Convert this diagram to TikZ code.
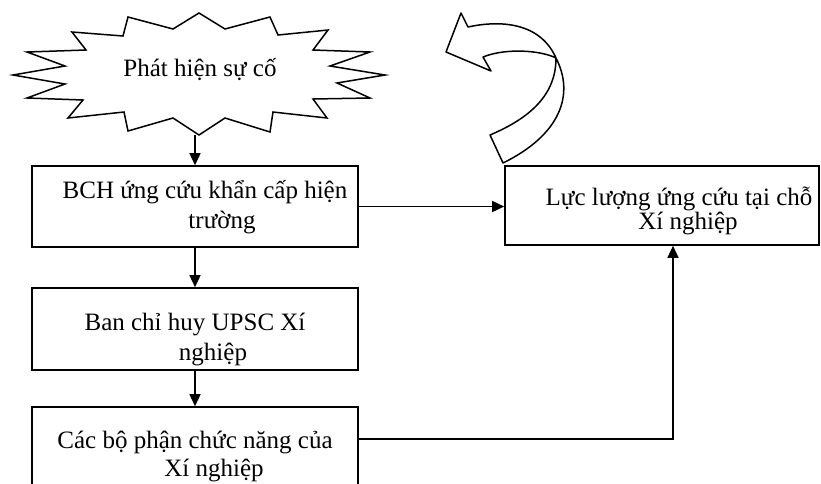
\documentclass[tikz,border=0pt]{standalone}
\usepackage{fontspec}
\setmainfont{Liberation Serif}
\usetikzlibrary{arrows.meta}
\begin{document}
\begin{tikzpicture}[x=1pt,y=-1pt,
  box/.style={draw,line width=1.6pt,inner sep=0pt},
  txt/.style={inner sep=0pt,align=center,font=\fontsize{25}{30}\selectfont},
  arr/.style={line width=1.5pt,-{Triangle[length=12pt,width=11pt]}},
  outline/.style={line width=1.5pt,line join=round}
  ]
\useasboundingbox (0,0) rectangle (821,483);
\clip (0,0) rectangle (821,483);

% starburst
\draw[outline,line join=miter] (199,13) -- (225,29) -- (270,17) -- (278,35) -- (328,30) -- (313,50) -- (370,52) -- (330,66) -- (385,75) -- (337,83) -- (370,98) -- (313,99) -- (327,118) -- (273,112) -- (270,132) -- (225,118) -- (199,135) -- (173,118) -- (128,131) -- (124,112) -- (68,118) -- (83,100) -- (27,98) -- (65,84) -- (13,75) -- (65,66) -- (27,52) -- (86,50) -- (72,32) -- (123,36) -- (128,17) -- (173,29) -- cycle;
\node[txt,anchor=base] (star) at (200,76) {Phát hiện sự cố};
\coordinate (starbottom) at (195,135);

% curved block arrow
\draw[outline] (446,52) -- (461,13) -- (468,27)
  .. controls (500,20) and (540,22) .. (556,58)
  .. controls (575,95) and (560,135) .. (503,163)
  -- (490,135)
  .. controls (530,118) and (556,95) .. (556,58)
  .. controls (540,50) and (505,48) .. (483,57)
  -- (491,71) -- cycle;

% boxes
\node[box,minimum width=326pt,minimum height=81pt] (bch) at (195,206.5) {};
\node[txt] (bchtext) at (200,207) {\hspace*{10pt}BCH ứng cứu khẩn cấp hiện\\\hspace*{44pt}trường};

\node[box,minimum width=326pt,minimum height=82pt] (ban) at (195,329) {};
\node[txt] (bantext) at (195,339) {Ban chỉ huy UPSC Xí\\\hspace*{36pt}nghiệp};

\node[box,minimum width=326pt,minimum height=96pt] (cac) at (195,455) {};
\node[txt,font=\fontsize{25}{28}\selectfont] (cactext) at (195,456) {Các bộ phận chức năng của\\\hspace*{38pt}Xí nghiệp};

\node[box,minimum width=314pt,minimum height=79pt] (luc) at (662,205.5) {};
\node[txt,font=\fontsize{25}{21}\selectfont] (luctext) at (662,211) {\hspace*{34pt}Lực lượng ứng cứu tại chỗ\\\hspace*{52pt}Xí nghiệp};

% connectors
\coordinate (turn) at (673,439);
\draw[arr] (starbottom) -- (bch.north);
\draw[arr] (bch.south) -- (ban.north);
\draw[arr] (ban.south) -- (cac.north);
\draw[arr] (bch.east) -- (bch.east -| luc.west);
\draw[arr] (cac.east |- turn) -- (turn) -- (turn |- luc.south);
\end{tikzpicture}
\end{document}
